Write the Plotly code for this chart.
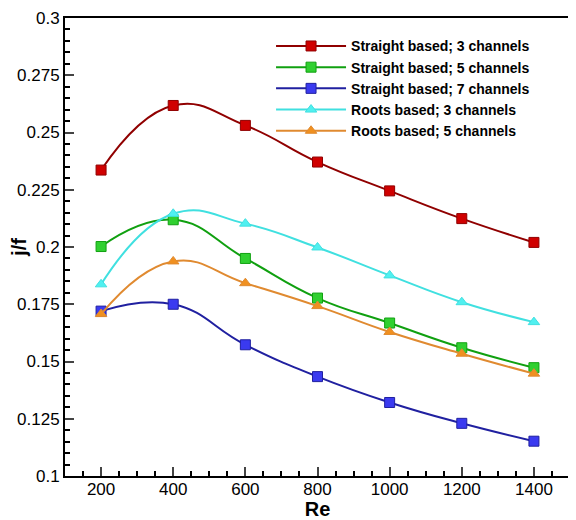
import plotly.graph_objects as go

re_vals = [200, 400, 600, 800, 1000, 1200, 1400]

straight_3 = [0.2336, 0.2618, 0.2531, 0.2371, 0.2245, 0.2124, 0.2020]
straight_5 = [0.2002, 0.2119, 0.1950, 0.1777, 0.1668, 0.1560, 0.1473]
straight_7 = [0.1720, 0.1750, 0.1573, 0.1434, 0.1321, 0.1230, 0.1152]
roots_3 = [0.1837, 0.2145, 0.2102, 0.1998, 0.1876, 0.1759, 0.1672]
roots_5 = [0.1707, 0.1937, 0.1842, 0.1742, 0.1629, 0.1534, 0.1447]

y_ticks = [0.1, 0.125, 0.15, 0.175, 0.2, 0.225, 0.25, 0.275, 0.3]
y_tick_text = ["0.1", "0.125", "0.15", "0.175", "0.2", "0.225", "0.25", "0.275", "0.3"]

series = [
    ("Straight based; 3 channels", straight_3, "#900000", "#d00000", "square"),
    ("Straight based; 5 channels", straight_5, "#10a010", "#30d030", "square"),
    ("Straight based; 7 channels", straight_7, "#2020a0", "#3a3af0", "square"),
    ("Roots based; 3 channels", roots_3, "#40e0e0", "#50f0f0", "triangle-up"),
    ("Roots based; 5 channels", roots_5, "#e08a30", "#f09020", "triangle-up"),
]

fig = go.Figure()
for name, vals, lc, mc, sym in series:
    fig.add_trace(go.Scatter(
        x=re_vals, y=vals, name=name, mode="lines+markers",
        line=dict(color=lc, width=2, shape="spline", smoothing=1.3),
        marker=dict(symbol=sym, size=10, color=mc, line=dict(color=lc, width=1)),
    ))

# page body adds an 8px margin, so the figure is a bit smaller than the window
fig.update_layout(
    width=568, height=512,
    margin=dict(l=57, r=6, t=10, b=44),
    plot_bgcolor="white", paper_bgcolor="white",
    font=dict(family="Liberation Sans, Arial", color="black"),
    legend=dict(x=0.408, y=0.973, xanchor="left", yanchor="top",
                bgcolor="rgba(0,0,0,0)", itemwidth=70, tracegroupgap=0,
                font=dict(size=14, family="Liberation Sans, Arial", weight="bold")),
    showlegend=True,
)
fig.update_xaxes(
    range=[100, 1500], tickvals=re_vals, ticks="inside", ticklen=9, tickwidth=1.5,
    showline=True, linecolor="black", linewidth=2, mirror=True, showgrid=False,
    zeroline=False, tickfont=dict(size=17), automargin=False, ticklabelstandoff=-3,
    ticklabeloverflow="allow",
    minor=dict(dtick=50, tick0=0, ticks="inside", ticklen=5, tickcolor="black", showgrid=False),
    title=dict(text="<b>Re</b>", font=dict(size=20), standoff=3),
)
fig.update_yaxes(
    range=[0.1, 0.3], tickvals=y_ticks, ticktext=y_tick_text, ticks="inside", ticklen=9,
    tickwidth=1.5, showline=True, linecolor="black", linewidth=2, mirror=True,
    showgrid=False, zeroline=False, tickfont=dict(size=17), automargin=False,
    ticklabeloverflow="allow",
    minor=dict(dtick=0.005, tick0=0, ticks="inside", ticklen=5, tickcolor="black", showgrid=False),
    title=dict(text="<b>j/f</b>", font=dict(size=20), standoff=6),
)

fig.write_html("out.html")
